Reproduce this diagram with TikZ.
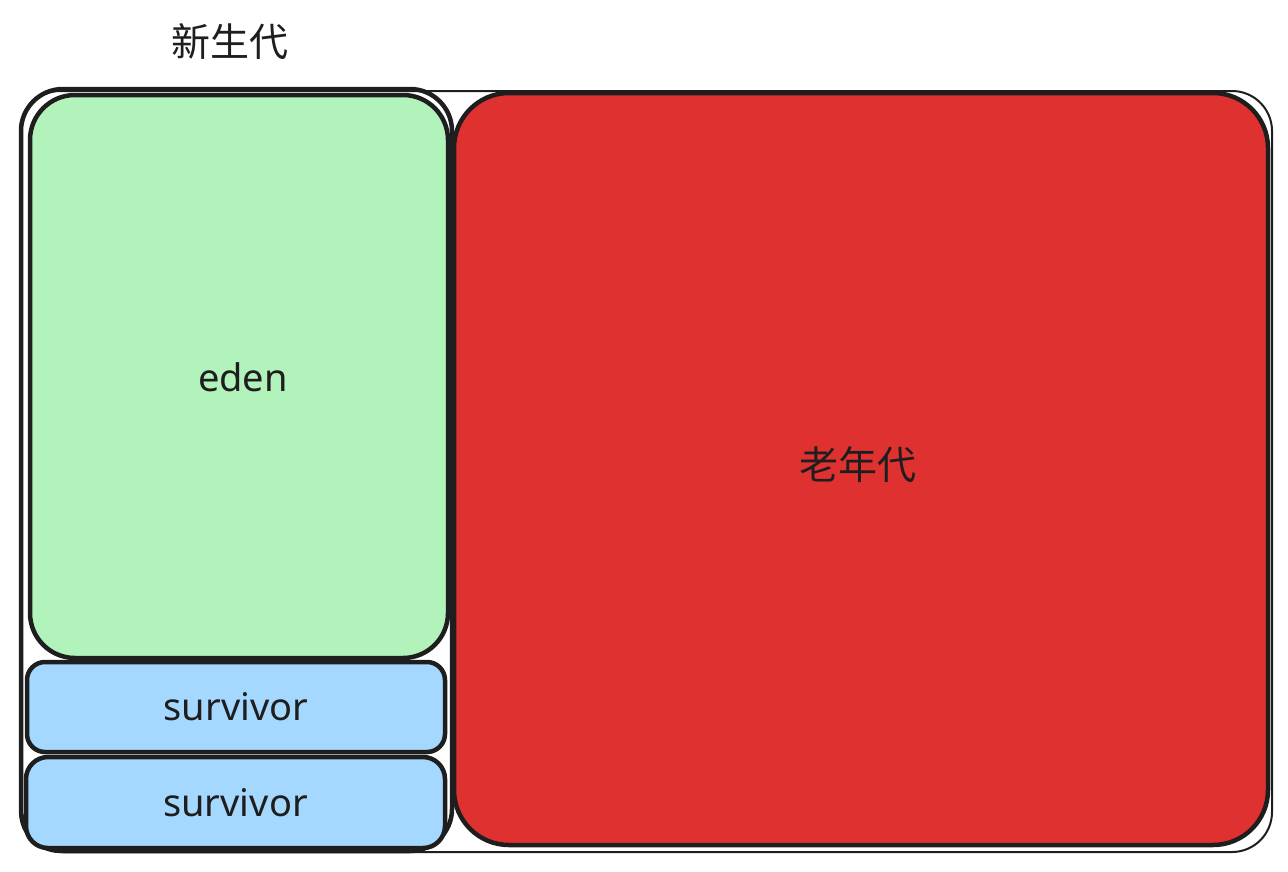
\documentclass[tikz,border=0pt]{standalone}
\usepackage{fontspec}
\setmainfont{Noto Sans}
\newfontfamily\cjk{Noto Sans CJK SC}
\definecolor{ink}{HTML}{1E1E1E}
\definecolor{edenfill}{HTML}{B2F2BB}
\definecolor{survfill}{HTML}{A5D8FF}
\definecolor{oldfill}{HTML}{E03131}
\tikzset{
  region/.style={draw=ink, line width=4.5pt, inner sep=0pt, outer sep=0pt, line join=round},
  frame/.style={draw=ink, line width=2pt, inner sep=0pt, outer sep=0pt},
  lbl/.style={text=ink, font=\fontsize{38}{42}\selectfont},
  cjklbl/.style={text=ink, font=\cjk\fontsize{39}{42}\selectfont},
}
\begin{document}
\begin{tikzpicture}[x=1pt,y=-1pt]
\useasboundingbox (0,0) rectangle (1288,871);
% outer frame (whole heap)
\node[frame, minimum width=1252pt, minimum height=761pt, rounded corners=40pt] (heap) at (646,471.5) {};
% old generation
\node[region, fill=oldfill, minimum width=814pt, minimum height=752pt, rounded corners=55pt] (old) at (861,469) {};
\node[cjklbl] (oldtext) at (858,465) {老年代};
% young generation frame
\node[region, minimum width=431pt, minimum height=762pt, rounded corners=42pt] (young) at (236.5,470) {};
% eden
\node[region, fill=edenfill, minimum width=418pt, minimum height=563pt, rounded corners=45pt] (eden) at (239,376.5) {};
\node[lbl] (edentext) at (243,377) {eden};
% survivors
\node[region, fill=survfill, minimum width=418pt, minimum height=90pt, rounded corners=18pt, lbl] (s1) at (236,707) {survivor};
\node[region, fill=survfill, minimum width=419pt, minimum height=91pt, rounded corners=22pt, lbl] (s2) at (235.5,802.5) {survivor};
% title
\node[cjklbl] (title) at (230,42) {新生代};
\end{tikzpicture}
\end{document}
